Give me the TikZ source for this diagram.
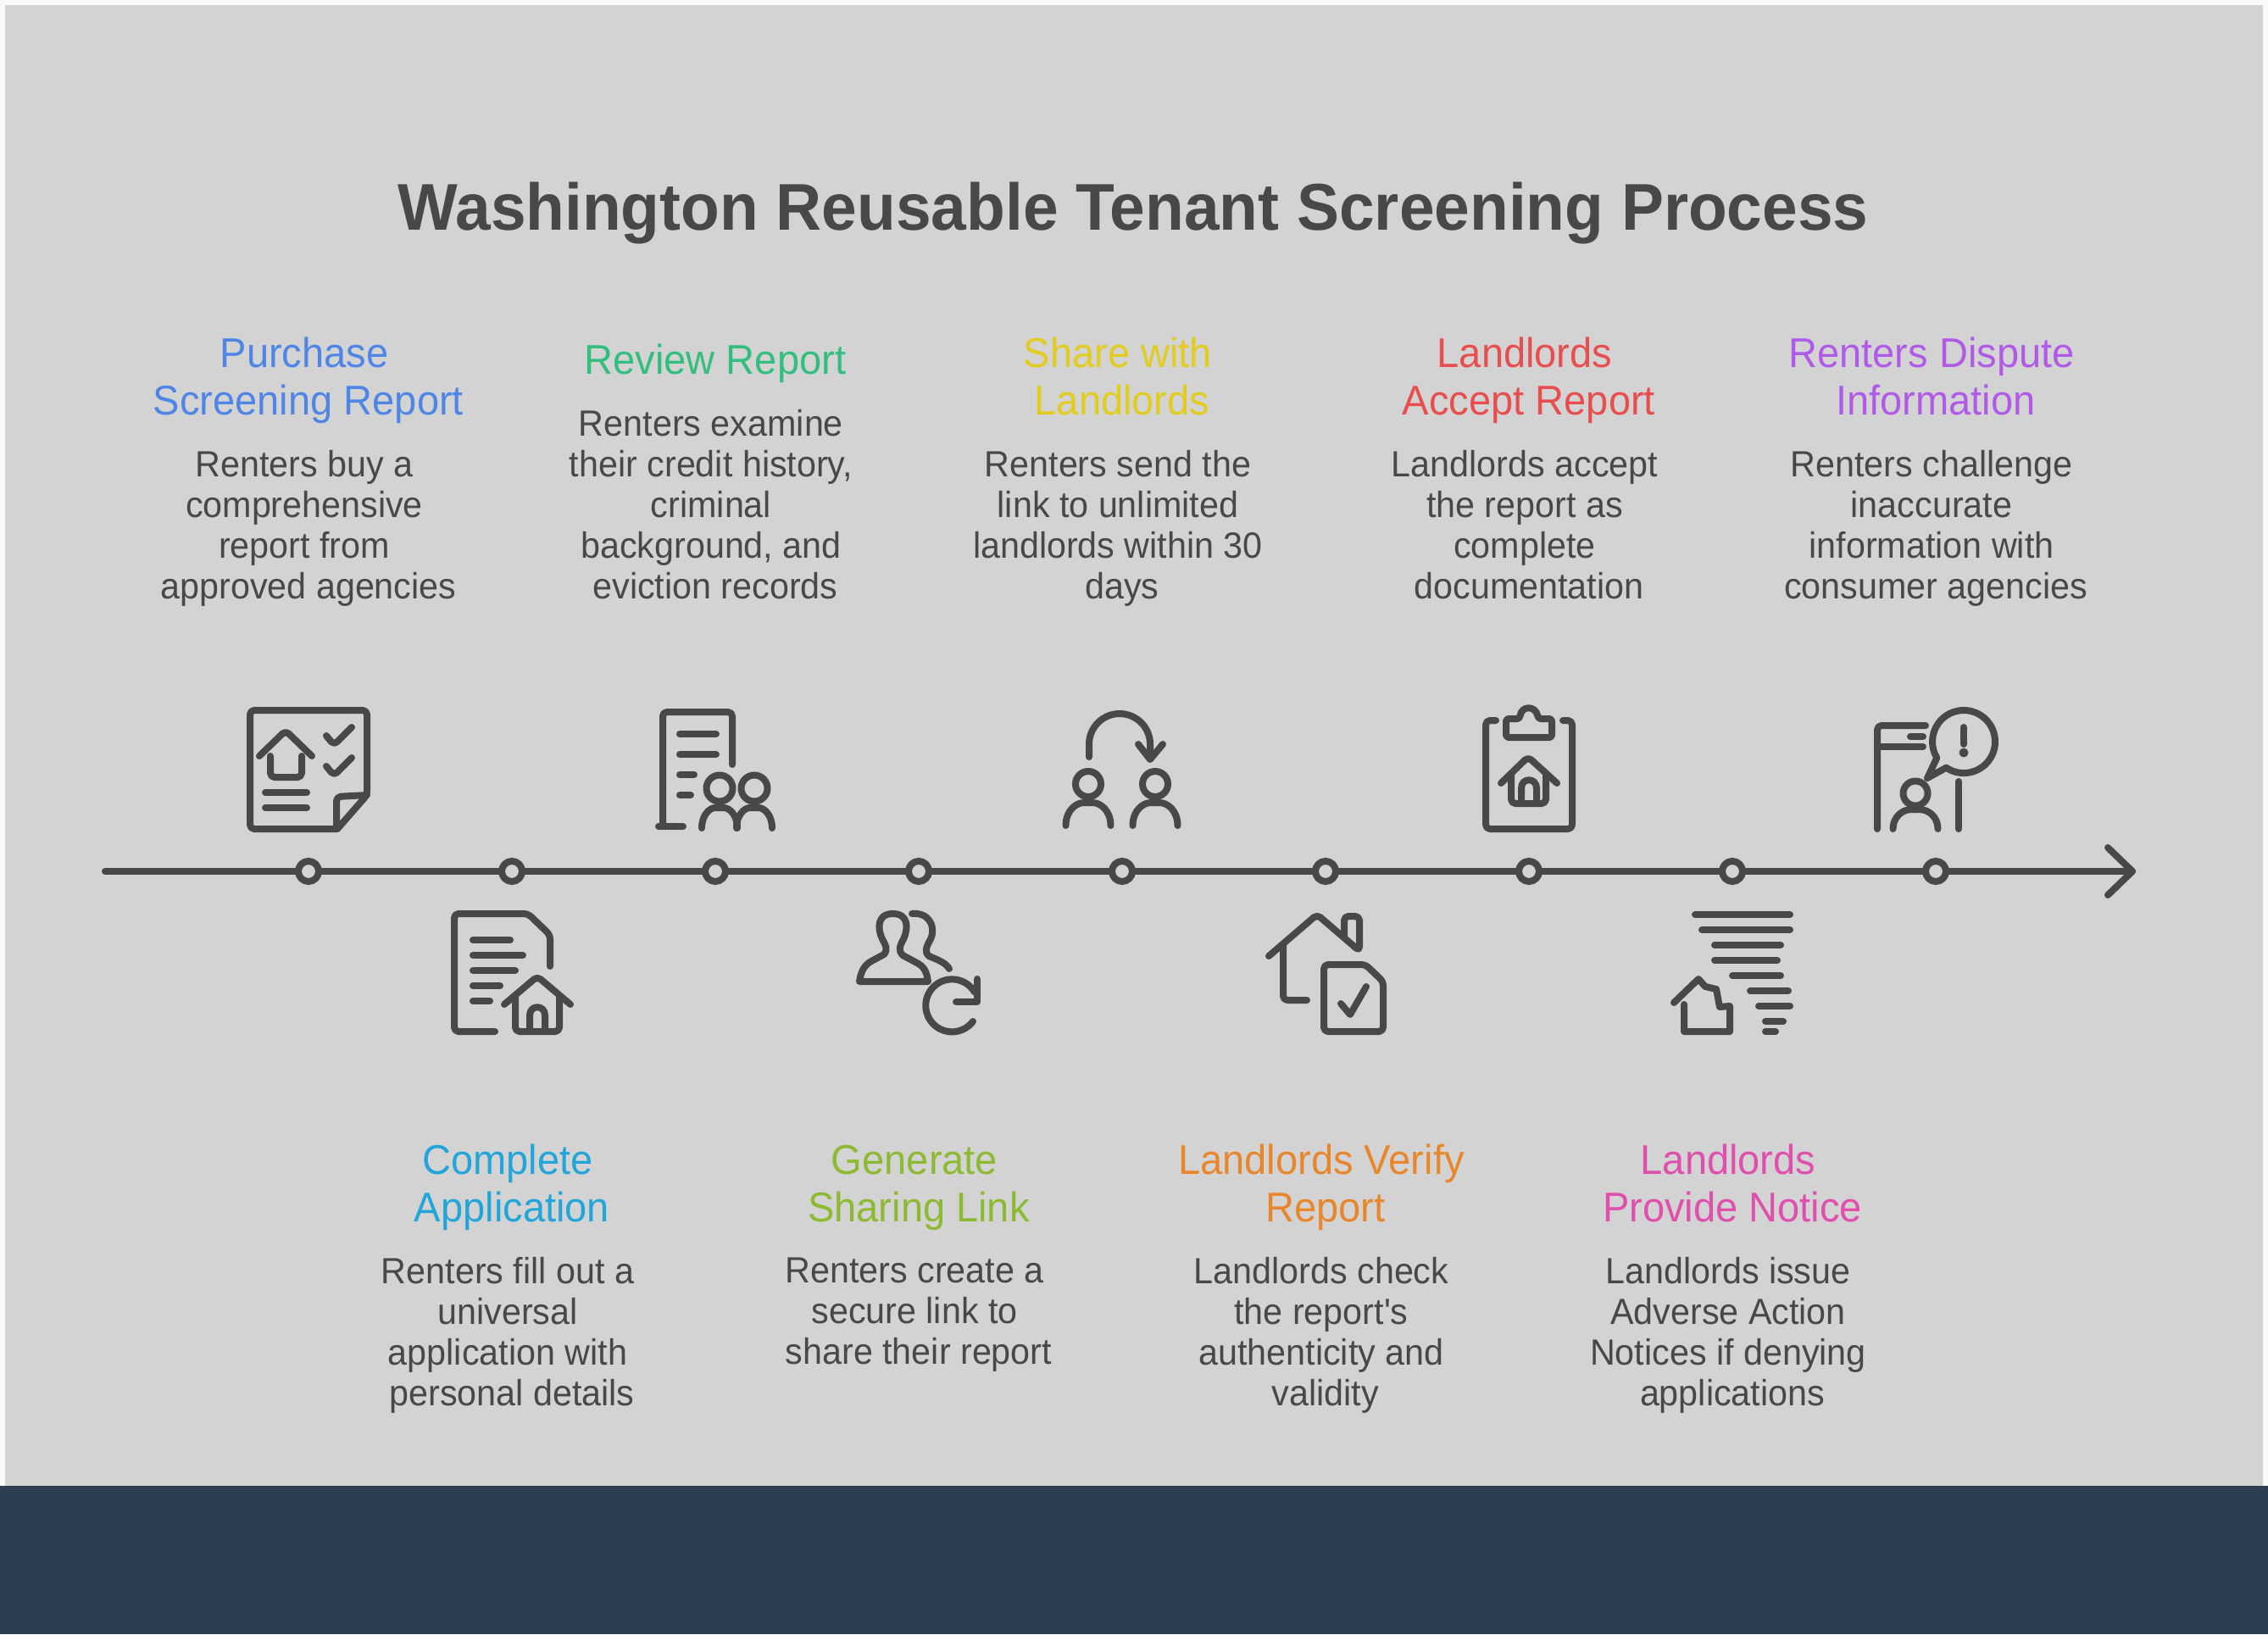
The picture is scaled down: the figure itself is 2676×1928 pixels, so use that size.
\documentclass[tikz,border=0pt]{standalone}
\usepackage{fontspec}
\setmainfont{Liberation Sans}[FakeStretch=0.96,Ligatures=TeXOff]
\definecolor{ink}{HTML}{484848}
\definecolor{panel}{HTML}{D3D3D3}
\definecolor{paper}{HTML}{F8FAF9}
\definecolor{band}{HTML}{2C3E50}
\definecolor{cBlue}{HTML}{4F86E6}
\definecolor{cCyan}{HTML}{22A5D8}
\definecolor{cGreen}{HTML}{32BE7E}
\definecolor{cLime}{HTML}{8CBA32}
\definecolor{cYellow}{HTML}{E2CC1E}
\definecolor{cOrange}{HTML}{E8862C}
\definecolor{cRed}{HTML}{E84E4E}
\definecolor{cPink}{HTML}{E04FAE}
\definecolor{cPurple}{HTML}{B25AE8}
\tikzset{
  icon/.style={draw=ink,line width=8pt,line cap=round,line join=round,rounded corners=5pt},
  heading/.style={align=center,inner sep=0pt,font=\fontsize{49}{56}\selectfont,
    execute at begin node=\rule{0pt}{38pt},execute at end node=\rule[-12pt]{0pt}{12pt}},
  bodytext/.style={align=center,inner sep=0pt,text=ink,font=\fontsize{43}{48}\selectfont,
    execute at begin node=\rule{0pt}{34pt},execute at end node=\rule[-10pt]{0pt}{10pt}},
  dot/.style={circle,draw=ink,fill=panel,line width=8pt,minimum size=24pt,inner sep=0pt},
}
% trailing blank of a broken line
\newcommand{\tsp}{\rule{10pt}{0pt}}
% head and shoulders: x, head y, head radius, shoulder top, bottom, half width
\newcommand{\myperson}[6]{
  \draw[icon] (#1,#2) circle (#3);
  \draw[icon] ({#1-#6},#5) .. controls ({#1-#6},{#4+0.35*(#5-#4)}) and ({#1-0.55*#6},#4) .. (#1,#4)
    .. controls ({#1+0.55*#6},#4) and ({#1+#6},{#4+0.35*(#5-#4)}) .. ({#1+#6},#5);
}
\begin{document}
\begin{tikzpicture}[x=1pt,y=-1pt]
\useasboundingbox (0,0) rectangle (2676,1928);
\fill[paper] (0,0) rectangle (2676,1928);
\fill[panel] (6,6) rectangle (2670,1753);
\fill[band] (0,1753) rectangle (2676,1928);

\node[inner sep=0pt,text=ink,font=\fontsize{78}{86}\selectfont\bfseries] (title) at (1337,251) {Washington Reusable Tenant Screening Process};

% the time line
\coordinate (start) at (124,1028);
\coordinate (tip) at (2516,1028);
\coordinate (tipa) at (2487,1000);
\coordinate (tipb) at (2487,1056);
\draw[ink,line width=8pt,line cap=round] (start) -- (tip);
\draw[ink,line width=8pt,line cap=round,line join=round] (tipa) -- (tip) -- (tipb);
\foreach \i in {0,...,8}
  \node[dot] (m\i) at ({364+240*\i},1028) {};

% upper row
\node[heading,text=cBlue] (h1) at (364,450) {Purchase\tsp\\Screening Report};
\node[bodytext] (b1) at (364,624) {Renters buy a\tsp\\comprehensive\tsp\\report from\tsp\\approved agencies};
\node[heading,text=cGreen] (h3) at (844,428) {Review Report};
\node[bodytext] (b3) at (844,600) {Renters examine\tsp\\their credit history,\tsp\\criminal\tsp\\background, and\tsp\\eviction records};
\node[heading,text=cYellow] (h5) at (1324,450) {Share with\tsp\\Landlords};
\node[bodytext] (b5) at (1324,624) {Renters send the\tsp\\link to unlimited\tsp\\landlords within 30\tsp\\days};
\node[heading,text=cRed] (h7) at (1804,450) {Landlords\tsp\\Accept Report};
\node[bodytext] (b7) at (1804,624) {Landlords accept\tsp\\the report as\tsp\\complete\tsp\\documentation};
\node[heading,text=cPurple] (h9) at (2284,450) {Renters Dispute\tsp\\Information};
\node[bodytext] (b9) at (2284,624) {Renters challenge\tsp\\inaccurate\tsp\\information with\tsp\\consumer agencies};

% lower row
\node[heading,text=cCyan] (h2) at (604,1402) {Complete\tsp\\Application};
\node[bodytext] (b2) at (604,1576) {Renters fill out a\tsp\\universal\tsp\\application with\tsp\\personal details};
\node[heading,text=cLime] (h4) at (1084,1402) {Generate\tsp\\Sharing Link};
\node[bodytext] (b4) at (1084,1552) {Renters create a\tsp\\secure link to\tsp\\share their report};
\node[heading,text=cOrange] (h6) at (1564,1402) {Landlords Verify\tsp\\Report};
\node[bodytext] (b6) at (1564,1576) {Landlords check\tsp\\the report's\tsp\\authenticity and\tsp\\validity};
\node[heading,text=cPink] (h8) at (2044,1402) {Landlords\tsp\\Provide Notice};
\node[bodytext] (b8) at (2044,1576) {Landlords issue\tsp\\Adverse Action\tsp\\Notices if denying\tsp\\applications};

% purchase icon
\draw[icon] (398,978) -- (295,978) -- (295,838) -- (433,838) -- (433,938) -- (398,978);
\draw[icon] (397,978) -- (397,940) -- (433,938);
\draw[icon] (306,892) -- (337,862) -- (368,892);
\draw[icon] (319,892) -- (319,917) -- (356,917) -- (356,892);
\draw[icon] (385,868) -- (394,879) -- (415,858);
\draw[icon] (385,904) -- (394,915) -- (415,894);
\draw[icon] (313,935) -- (362,935);
\draw[icon] (313,953) -- (362,953);

% application icon
\draw[icon] (584,1217) -- (536,1217) -- (536,1078) -- (623,1078) -- (649,1103) -- (649,1140);
\draw[icon] (558,1109) -- (602,1109);
\draw[icon] (558,1127) -- (617,1127);
\draw[icon] (558,1145) -- (608,1145);
\draw[icon] (558,1163) -- (590,1163);
\draw[icon] (558,1181) -- (578,1181);
\draw[icon] (595,1185) -- (634,1152) -- (673,1185);
\draw[icon] (608,1175) -- (608,1217) -- (660,1217) -- (660,1175);
\draw[icon,rounded corners=0pt] (625,1215) -- (625,1198) .. controls (625,1185) and (643,1185) .. (643,1198) -- (643,1215);

% review icon
\draw[icon] (777,975) -- (806,975);
\draw[icon] (782,975) -- (782,840) -- (864,840) -- (864,902);
\draw[icon] (802,866) -- (845,866);
\draw[icon] (802,890) -- (845,890);
\draw[icon] (802,914) -- (819,914);
\draw[icon] (802,938) -- (815,938);
\myperson{849}{930}{15.5}{953}{977}{21}
\myperson{890}{930}{15.5}{953}{977}{21}

% sharing link icon
\draw[icon,rounded corners=0pt] (1014,1158) .. controls (1016,1145) and (1020,1138) .. (1030,1133) -- (1043,1126) .. controls (1048,1120) and (1045,1115) .. (1041,1108) .. controls (1035,1095) and (1035,1078) .. (1053.5,1078) .. controls (1072,1078) and (1072,1095) .. (1066,1108) .. controls (1061,1117) and (1060,1122) .. (1065,1127) -- (1080,1135) .. controls (1090,1140) and (1093,1145) .. (1095,1158) -- cycle;
\draw[icon,rounded corners=0pt] (1076,1078) .. controls (1095,1076) and (1105,1092) .. (1098,1108) .. controls (1092,1118) and (1091,1124) .. (1096,1128) .. controls (1108,1133) and (1116,1136) .. (1120,1143);
\draw[icon,rounded corners=0pt] (1148,1205) arc (37:329:31);
\draw[icon,rounded corners=0pt] (1153,1155) -- (1153,1182) -- (1128,1182);

% share icon
\myperson{1284}{925}{15}{947}{974}{26.5}
\myperson{1363}{925}{15}{947}{974}{26.5}
\draw[icon,rounded corners=0pt] (1285,893) -- (1285,878) arc (180:360:36) -- (1357,895);
\draw[icon,rounded corners=0pt] (1343,878) -- (1357,896) -- (1372,878);

% verify icon
\draw[icon] (1497,1128) -- (1554,1079) -- (1604,1122) -- (1604,1081) -- (1586,1081) -- (1586,1105);
\draw[icon] (1514,1115) -- (1514,1180) -- (1542,1180);
\draw[icon] (1611,1138) -- (1562,1138) -- (1562,1217) -- (1632,1217) -- (1632,1158) -- cycle;
\draw[icon,rounded corners=0pt] (1582,1184) -- (1593,1197) -- (1612,1164);

% accept icon
\draw[icon] (1765,850) -- (1753,850) -- (1753,978) -- (1855,978) -- (1855,850) -- (1844,850);
\draw[icon,rounded corners=3pt] (1777,848) -- (1793,848) .. controls (1795,832) and (1812,832) .. (1815,848) -- (1831,848) -- (1831,870) -- (1777,870) -- cycle;
\draw[icon] (1771,924) -- (1803,893) -- (1837,924);
\draw[icon] (1783,913) -- (1783,948) -- (1824,948) -- (1824,913);
\draw[icon,rounded corners=0pt] (1795,943) -- (1795,930) .. controls (1795,917) and (1813,917) .. (1813,930) -- (1813,943);

% notice icon
\foreach \yy/\xa/\xb in {1079/2000/2112,1097/2008/2112,1115/2023/2101,1133/2023/2097,1151/2044/2101,1169/2065/2110,1187/2075/2112,1205/2083/2104,1217/2083/2095}
  \draw[icon] (\xa,\yy) -- (\xb,\yy);
\draw[icon,rounded corners=0pt] (1975,1183) -- (2004,1155) -- (2012,1164) -- (2025,1167) -- (2029,1188) -- (2041,1187) -- (2041,1217) -- (1987,1217) -- (1987,1185);

% dispute icon
\draw[icon] (2215,978) -- (2215,856) -- (2272,856);
\draw[icon] (2215,881) -- (2269,881);
\draw[icon] (2254,869) -- (2269,869);
\draw[icon] (2311,922) -- (2311,978);
\myperson{2260}{936}{14.5}{955}{978}{26.5}
\draw[icon,rounded corners=0pt] (2296.3,905.7) arc (124:-211:37) -- (2274,918) -- cycle;
\draw[icon] (2317,858) -- (2317,878);
\fill[ink] (2317,888) circle (5.5);
\end{tikzpicture}
\end{document}
